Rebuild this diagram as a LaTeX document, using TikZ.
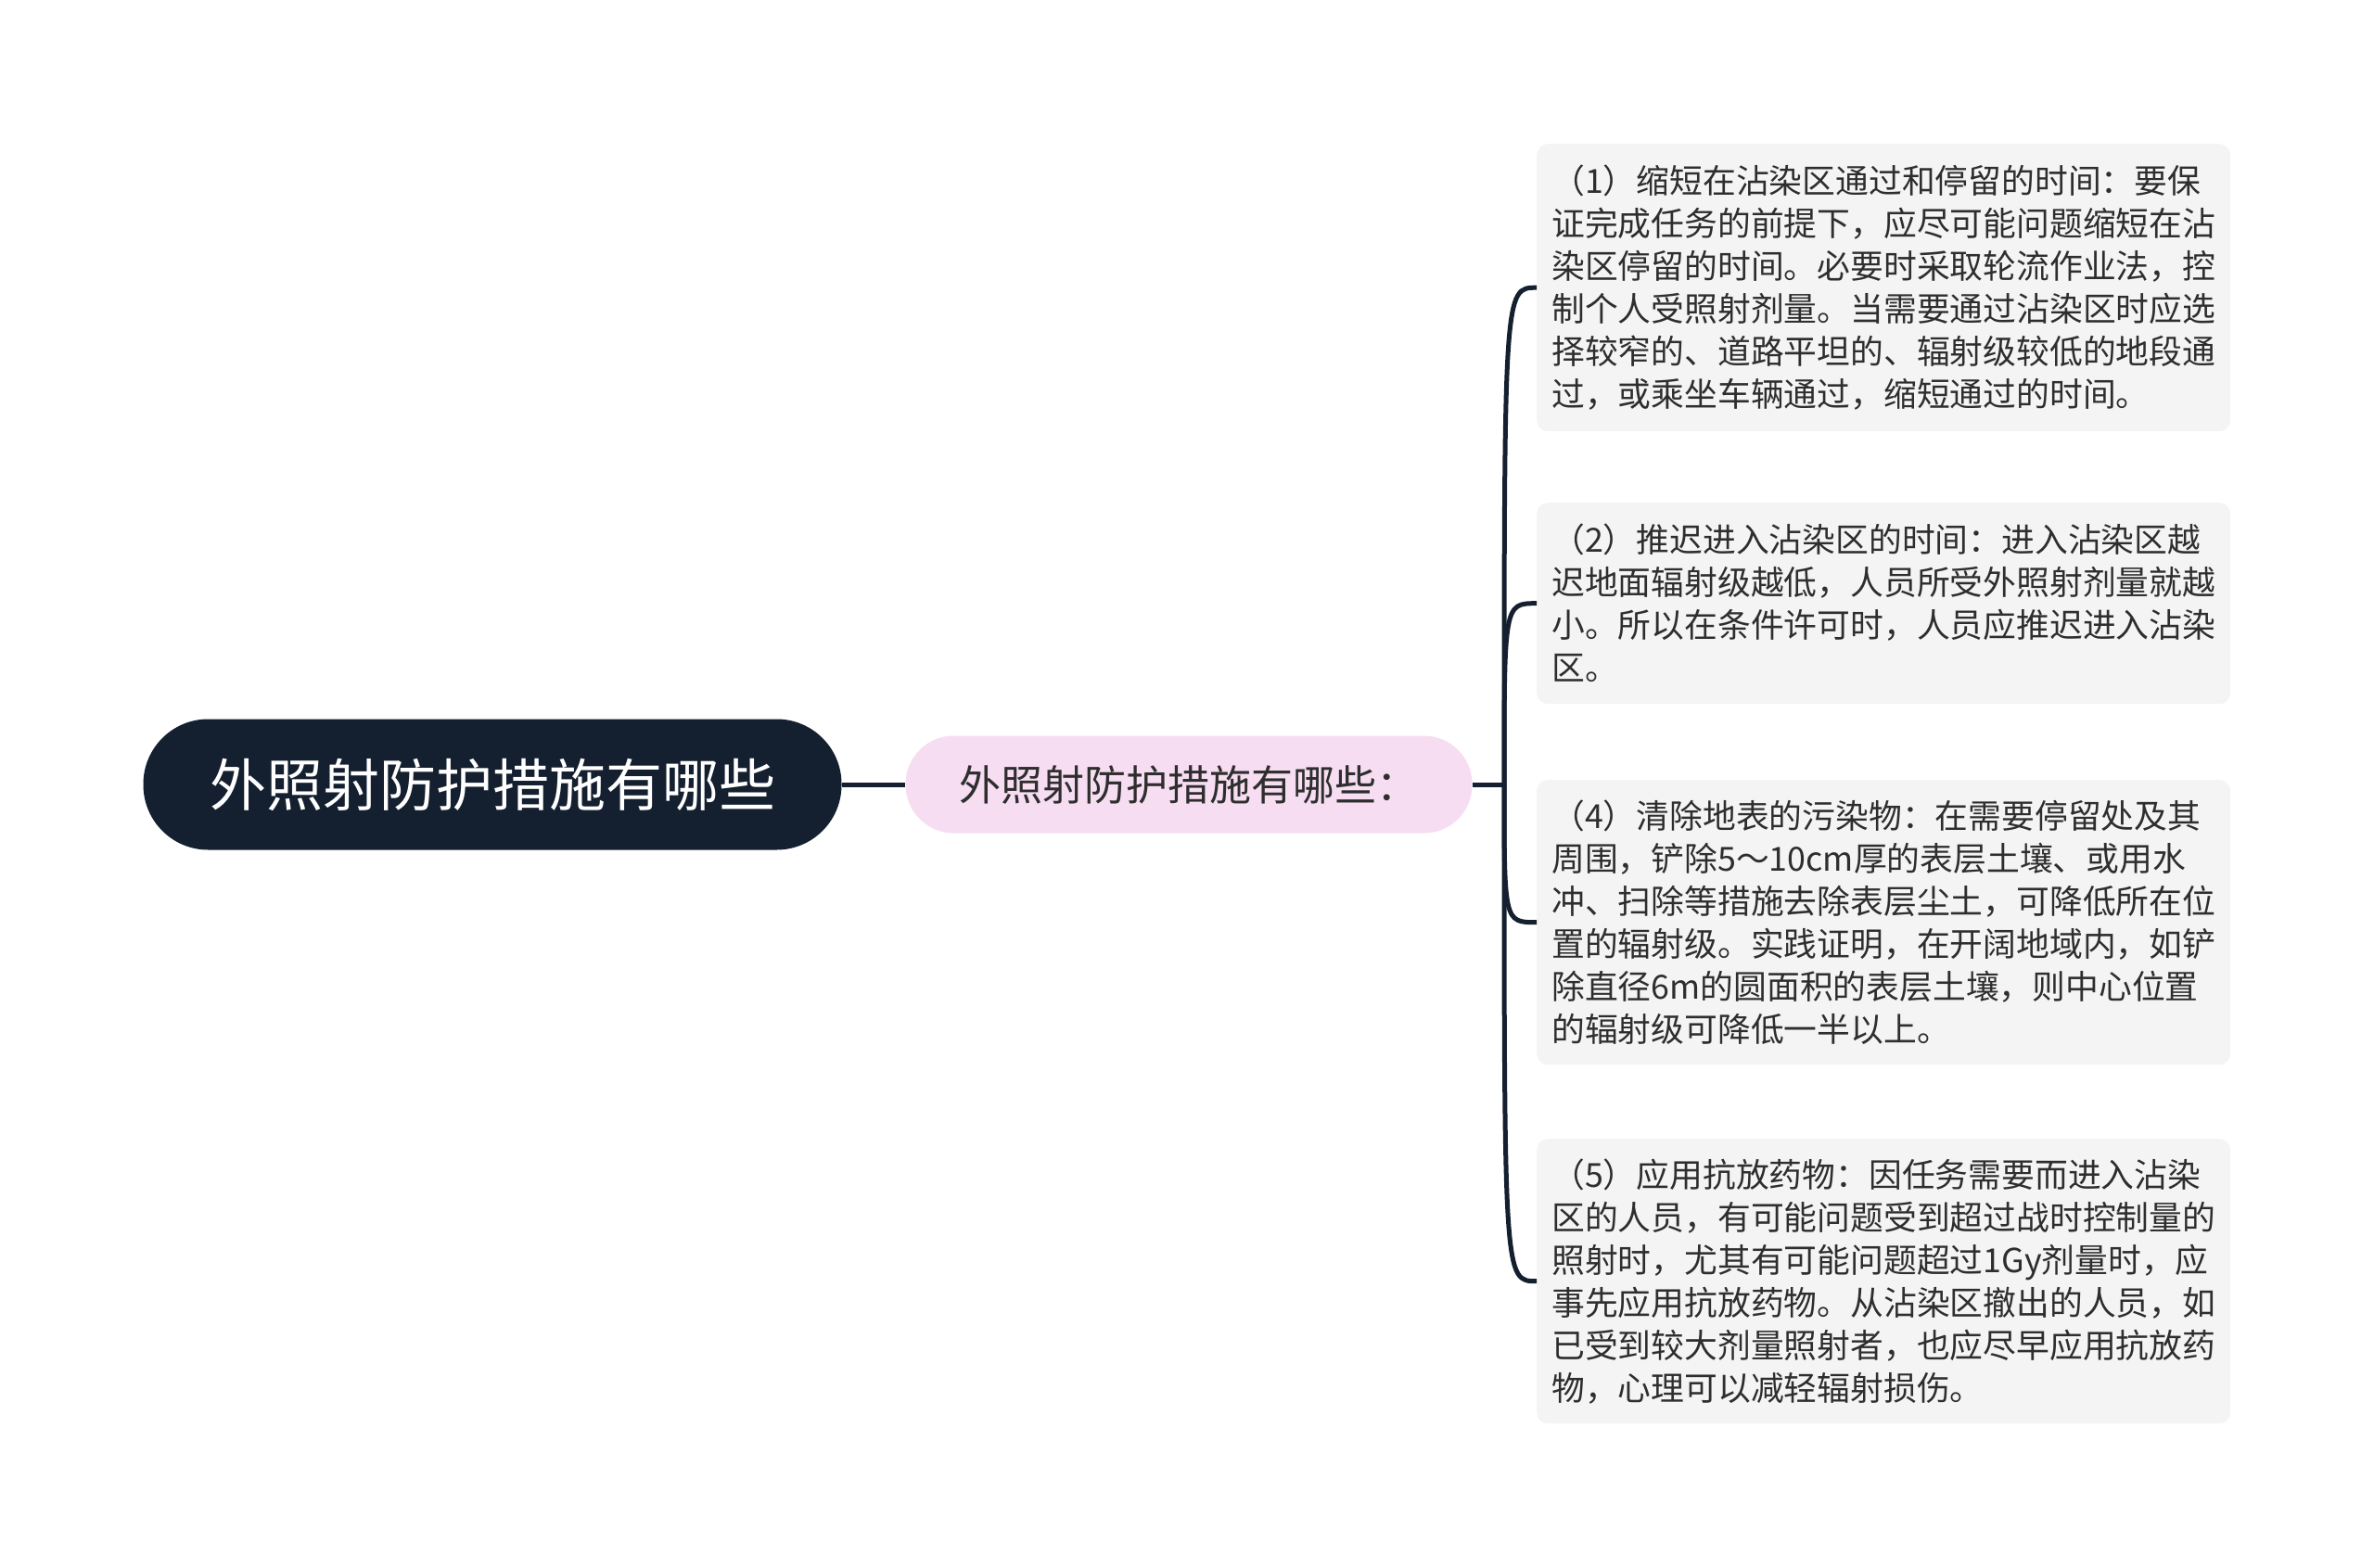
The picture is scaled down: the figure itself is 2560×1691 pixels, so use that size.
\documentclass[tikz,border=0pt]{standalone}
\usepackage{fontspec}
\setmainfont{Noto Sans CJK SC}
\usetikzlibrary{calc}
\definecolor{navy}{HTML}{141F2F}
\definecolor{pinkbg}{HTML}{F6DDF1}
\definecolor{leafbg}{HTML}{F4F4F4}
\definecolor{txt}{HTML}{2E2E2E}
\begin{document}
\begin{tikzpicture}[x=1pt,y=-1pt,
  rootbox/.style={fill=navy, text=white, rounded corners=70pt, minimum width=753pt, minimum height=141pt, inner sep=0pt, font=\fontsize{61}{70}\selectfont},
  subbox/.style={fill=pinkbg, text=txt, rounded corners=52pt, minimum width=611pt, minimum height=105pt, inner sep=0pt, font=\fontsize{45}{52}\selectfont},
  leafbox/.style={fill=leafbg, text=txt, rounded corners=12pt, anchor=north west, text width=716pt, align=left, inner xsep=16pt, inner ysep=0pt, minimum width=748pt, font=\fontsize{35.8}{46}\selectfont},
  link/.style={draw=navy, line width=5pt}
]
\useasboundingbox[fill=white] (0,0) rectangle (2560,1691);

\node[rootbox] (root) at (531,846) {外照射防护措施有哪些};
\node[subbox] (sub) at (1282,846) {外照射防护措施有哪些：};

\node[leafbox, minimum height=310pt] (l1) at (1657,155) {（1）缩短在沾染区通过和停留的时间：要保\\
证完成任务的前提下，应尽可能问题缩短在沾\\
染区停留的时间。必要时采取轮流作业法，控\\
制个人受照射剂量。当需要通过沾染区时应选\\
择较窄的、道路平坦的、辐射级较低的地段通\\
过，或乘坐车辆通过，缩短通过的时间。};

\node[leafbox, minimum height=217pt] (l2) at (1657,542) {（2）推迟进入沾染区的时间：进入沾染区越\\
迟地面辐射级越低，人员所受外照射剂量就越\\
小。所以在条件许可时，人员应推迟进入沾染\\
区。};

\node[leafbox, minimum height=307pt] (l4) at (1657,841) {（4）清除地表的污染物：在需要停留处及其\\
周围，铲除5～10cm厚的表层土壤、或用水\\
冲、扫除等措施去除表层尘土，可降低所在位\\
置的辐射级。实践证明，在开阔地域内，如铲\\
除直径6m的圆面积的表层土壤，则中心位置\\
的辐射级可降低一半以上。};

\node[leafbox, minimum height=307pt] (l5) at (1657,1228) {（5）应用抗放药物：因任务需要而进入沾染\\
区的人员，有可能问题受到超过战时控制量的\\
照射时，尤其有可能问题超过1Gy剂量时，应\\
事先应用抗放药物。从沾染区撤出的人员，如\\
已受到较大剂量照射者，也应尽早应用抗放药\\
物，心理可以减轻辐射损伤。};

\coordinate (j) at (1622,846);
\draw[link] (root) -- (sub);
\draw[link] (sub.east) -- (j);
\draw[link] (j) .. controls (j |- l1.west) .. (l1.west);
\draw[link] (j) .. controls (j |- l2.west) .. (l2.west);
\draw[link] (j) .. controls (j |- l4.west) .. (l4.west);
\draw[link] (j) .. controls (j |- l5.west) .. (l5.west);
\end{tikzpicture}
\end{document}
